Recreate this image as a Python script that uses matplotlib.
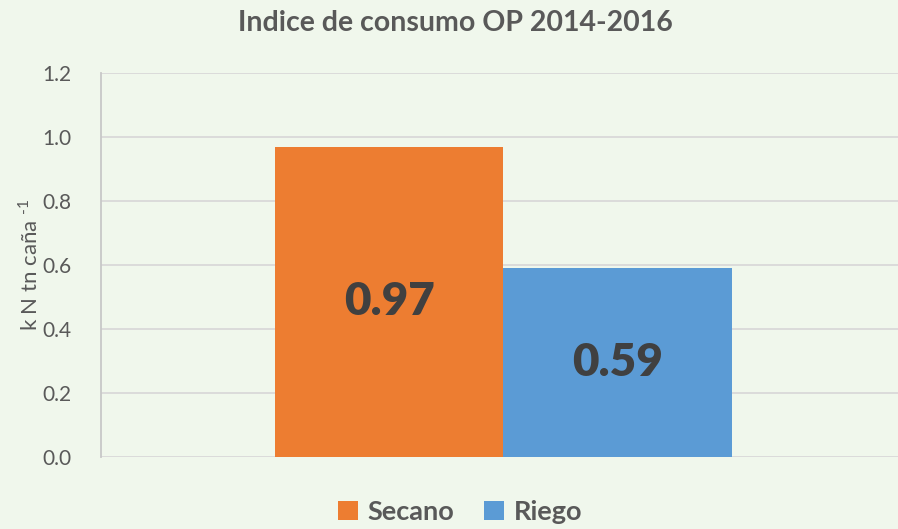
import numpy as np
import matplotlib
matplotlib.use("Agg")
import matplotlib.pyplot as plt

plt.rcParams['font.family'] = ['Lato', 'DejaVu Sans']
plt.rcParams['mathtext.fontset'] = 'custom'
plt.rcParams['mathtext.rm'] = 'Lato'

series = ['Secano', 'Riego']
values = [0.97, 0.59]
colors = ['#ED7D31', '#5B9BD5']
yticks = [0.0, 0.2, 0.4, 0.6, 0.8, 1.0, 1.2]

bg = '#F0F7EC'
W, H = 898, 529
fig = plt.figure(figsize=(W / 100, H / 100), dpi=100, facecolor=bg)
# axes is a bit wider than the picture on the right (cropped original)
ax = fig.add_axes([101 / W, (H - 457) / H, 805 / W, 384 / H], facecolor=bg)

width = 0.5
offsets = [-0.25, 0.25]
for name, v, c, off in zip(series, values, colors, offsets):
    ax.bar(off, v, width=width, color=c, label=name, zorder=3)
    ax.text(off, v / 2, f'{v:.2f}', ha='center', va='center',
            fontsize=33, fontweight='heavy', color='#404040', zorder=4)

ax.set_xlim(-0.879, 0.879)
ax.set_ylim(0, 1.2)
ax.set_yticks(yticks)
ax.set_yticklabels([f'{t:.1f}' for t in yticks])
ax.set_xticks([])
ax.grid(axis='y', color='#D9D9D9', linewidth=1.3, zorder=0)
for s in ['top', 'right', 'bottom']:
    ax.spines[s].set_visible(False)
ax.spines['left'].set_color('#C8C8C8')
ax.spines['left'].set_linewidth(1.3)
ax.tick_params(axis='y', length=0, pad=21, labelsize=15, labelcolor='#595959')

ax.set_ylabel('k N tn caña $^{\\text{-1}}$', fontsize=16, color='#595959', labelpad=1)

fig.text(455 / W, 1 - 23 / H, 'Indice de consumo OP 2014-2016', ha='center', va='center',
         fontsize=20.5, fontweight='bold', color='#595959')

leg = fig.legend(loc='center', bbox_to_anchor=(460 / W, 1 - 512 / H), ncol=2,
                 frameon=False, fontsize=19.5, handlelength=0.75, handleheight=0.75,
                 handletextpad=0.35, columnspacing=1.1)
for t in leg.get_texts():
    t.set_fontweight('bold')
    t.set_color('#595959')

fig.savefig('out.png', dpi=100, facecolor=bg)
